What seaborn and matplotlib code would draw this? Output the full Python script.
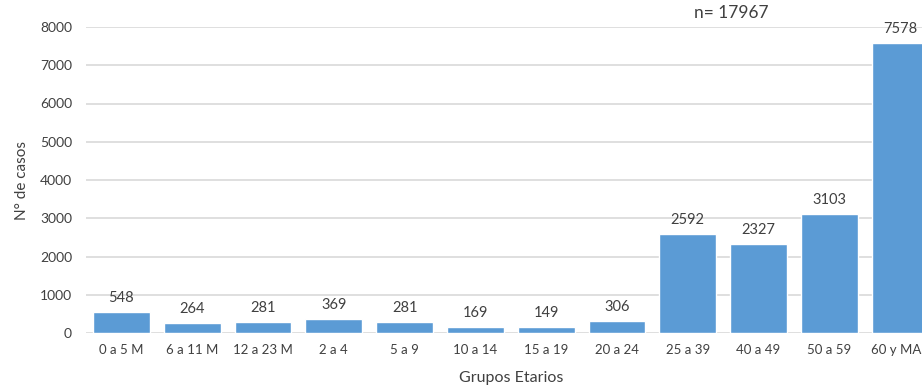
import matplotlib
matplotlib.use("Agg")
import matplotlib.pyplot as plt
import seaborn as sns
import pandas as pd

groups = ["0 a 5 M", "6 a 11 M", "12 a 23 M", "2 a 4", "5 a 9", "10 a 14",
          "15 a 19", "20 a 24", "25 a 39", "40 a 49", "50 a 59", "60 y MAS"]
cases = [548, 264, 281, 369, 281, 169, 149, 306, 2592, 2327, 3103, 7578]
y_ticks = [0, 1000, 2000, 3000, 4000, 5000, 6000, 7000, 8000]
total_label = "n= 17967"

df = pd.DataFrame({"grupo": groups, "casos": cases})

sns.set_theme(style="white")
plt.rcParams["font.family"] = ["Lato", "DejaVu Sans"]
text_color = "#404040"

fig = plt.figure(figsize=(9.22, 3.87), dpi=100)
# Plot area runs past the right edge so the last bar is cut off
ax = fig.add_axes([86 / 922, (387 - 333) / 387, 849.6 / 922, 306 / 387])

sns.barplot(data=df, x="grupo", y="casos", color="#5B9BD5", width=0.8,
            saturation=1, ax=ax, zorder=3)

ax.set_ylim(0, 8000)
ax.set_yticks(y_ticks)
ax.set_yticklabels([str(t) for t in y_ticks], fontsize=10, color=text_color)
ax.set_xlim(-0.5, len(groups) - 0.5)
ax.tick_params(axis="x", labelsize=9.5, colors=text_color, length=0, pad=8)
ax.tick_params(axis="y", length=0, pad=10)
ax.grid(axis="y", color="#D9D9D9", linewidth=1.2, zorder=0)
for s in ax.spines.values():
    s.set_visible(False)

for i, v in enumerate(cases):
    ax.annotate(str(v), xy=(i, v), xytext=(0, 10), textcoords="offset points",
                ha="center", va="center", fontsize=10.5, color=text_color,
                annotation_clip=False)

ax.set_xlabel("Grupos Etarios", fontsize=11.5, color=text_color, labelpad=11)
ax.set_ylabel("N° de casos", fontsize=11, color=text_color, labelpad=8)

fig.text(731 / 922, 1 - 13 / 387, total_label, ha="center", va="center",
         fontsize=12.5, color=text_color)

fig.savefig("out.png", dpi=100)
